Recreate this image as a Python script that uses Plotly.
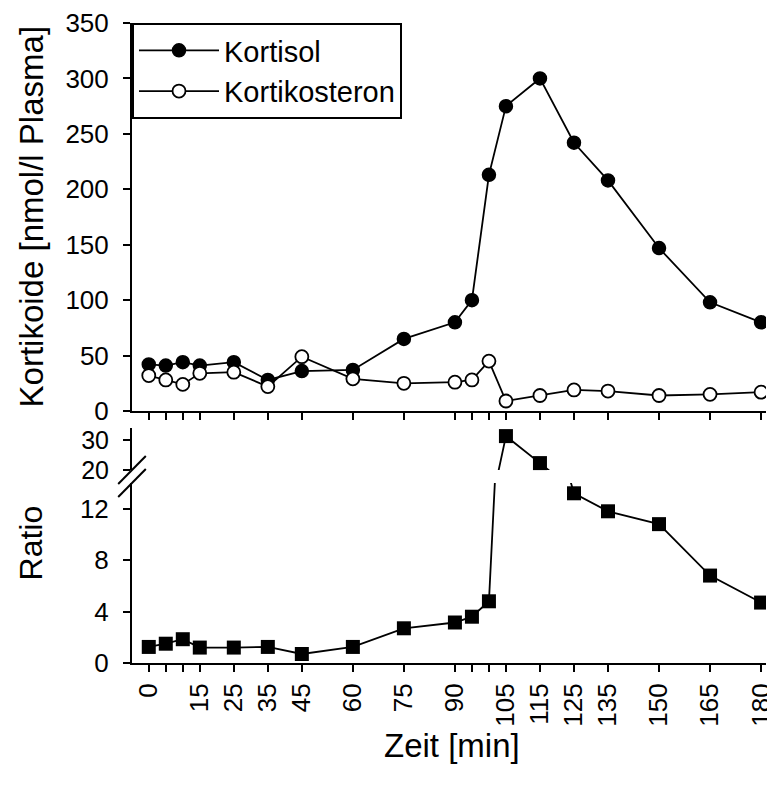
import plotly.graph_objects as go

times = [0, 5, 10, 15, 25, 35, 45, 60, 75, 90, 95, 100, 105, 115, 125, 135, 150, 165, 180]
kortisol = [42, 41, 44, 41, 44, 28, 36, 37, 65, 80, 100, 213, 275, 300, 242, 208, 147, 98, 80]
kortikosteron = [32, 28, 24, 34, 35, 22, 49, 29, 25, 26, 28, 45, 9, 14, 19, 18, 14, 15, 17]
ratio = [1.25, 1.5, 1.85, 1.2, 1.2, 1.25, 0.7, 1.25, 2.7, 3.15, 3.6, 4.8, 31.3, 22.3, 13.2, 11.8, 10.8, 6.8, 4.7]
label_times = [0, 15, 25, 35, 45, 60, 75, 90, 105, 115, 125, 135, 150, 165, 180]
tick_text = [str(t) if t in label_times else "" for t in times]

FONT = "Liberation Sans, Arial, sans-serif"
OFF = 8  # default body margin of the page
W, H = 775 - OFF, 785 - 2 * OFF
L, R, T = 132 - OFF, 0, 23 - OFF
B = H - (663 - OFF)
PW, PH = W - L - R, H - T - B


def py(pix):  # page pixel y -> paper y
    return (H - B - (pix - OFF)) / PH


def px(pix):  # page pixel x -> paper x
    return (pix - OFF - L) / PW


fig = go.Figure()

fig.add_trace(go.Scatter(x=times, y=kortisol, name="Kortisol", mode="lines+markers",
                         line=dict(color="black", width=1.8),
                         marker=dict(symbol="circle", size=13, color="black",
                                     line=dict(color="black", width=1.5)),
                         xaxis="x", yaxis="y"))
fig.add_trace(go.Scatter(x=times, y=kortikosteron, name="Kortikosteron", mode="lines+markers",
                         line=dict(color="black", width=1.8),
                         marker=dict(symbol="circle", size=13, color="white",
                                     line=dict(color="black", width=1.8)),
                         xaxis="x", yaxis="y"))

# Ratio: lower segment of broken axis
fig.add_trace(go.Scatter(x=times, y=ratio, mode="lines+markers", showlegend=False,
                         line=dict(color="black", width=1.8),
                         marker=dict(symbol="square", size=14, color="black"),
                         xaxis="x2", yaxis="y2"))
# Ratio: upper segment of broken axis
upper_t = [t for t, r in zip(times, ratio) if r >= 20]
upper_r = [r for r in ratio if r >= 20]
fig.add_trace(go.Scatter(x=times, y=ratio, mode="lines", showlegend=False,
                         line=dict(color="black", width=1.8),
                         xaxis="x2", yaxis="y3"))
fig.add_trace(go.Scatter(x=upper_t, y=upper_r, mode="markers", showlegend=False,
                         marker=dict(symbol="square", size=14, color="black"),
                         cliponaxis=False, xaxis="x2", yaxis="y3"))


def axis_common(size=26, standoff=0):
    return dict(showline=True, linecolor="black", linewidth=2, ticks="outside",
                ticklen=7, tickwidth=2, tickcolor="black", showgrid=False,
                zeroline=False, ticklabelstandoff=standoff,
                tickfont=dict(family=FONT, size=size, color="black"))


xr = [-4.93, 181.45]

fig.update_layout(
    width=W, height=H,
    margin=dict(l=L, r=R, t=T, b=B, pad=0),
    plot_bgcolor="white", paper_bgcolor="white",
    font=dict(family=FONT, color="black"),
    xaxis=dict(domain=[0, 1], anchor="y", range=xr, tickmode="array", tickvals=times,
               showticklabels=False, **axis_common()),
    yaxis=dict(domain=[py(411), 1], anchor="x", range=[0, 350], tickmode="array",
               tickvals=[0, 50, 100, 150, 200, 250, 300, 350], **axis_common(26, 9)),
    xaxis2=dict(domain=[0, 1], anchor="y2", range=xr, tickmode="array", tickvals=times,
                ticktext=tick_text, tickangle=-90, ticklabeloverflow="allow",
                **axis_common(26, 1)),
    yaxis2=dict(domain=[0, py(483)], anchor="x2", range=[0, 14], tickmode="array",
                tickvals=[0, 4, 8, 12], **axis_common(26, 9)),
    yaxis3=dict(domain=[py(470), py(428)], anchor="x2", range=[20, 34], tickmode="array",
                tickvals=[20, 30], **axis_common(25, 9)),
    legend=dict(x=0, y=1, xanchor="left", yanchor="top", bgcolor="white",
                bordercolor="black", borderwidth=2, itemwidth=80, tracegroupgap=0,
                font=dict(family=FONT, size=29, color="black")),
    shapes=[
        dict(type="line", xref="paper", yref="paper", x0=px(118), y0=py(484), x1=px(146), y1=py(456),
             line=dict(color="black", width=2)),
        dict(type="line", xref="paper", yref="paper", x0=px(118), y0=py(497), x1=px(146), y1=py(469),
             line=dict(color="black", width=2)),
    ],
    annotations=[
        dict(text="Kortikoide [nmol/l Plasma]", xref="paper", yref="paper", x=px(30), y=py(217),
             textangle=-90, showarrow=False, font=dict(family=FONT, size=33, color="black"),
             xanchor="center", yanchor="middle"),
        dict(text="Ratio", xref="paper", yref="paper", x=px(30), y=py(543),
             textangle=-90, showarrow=False, font=dict(family=FONT, size=32, color="black"),
             xanchor="center", yanchor="middle"),
        dict(text="Zeit [min]", xref="paper", yref="paper", x=px(457), y=py(745),
             showarrow=False, font=dict(family=FONT, size=33, color="black"),
             xanchor="center", yanchor="middle"),
    ],
)

fig.write_html("out.html")
